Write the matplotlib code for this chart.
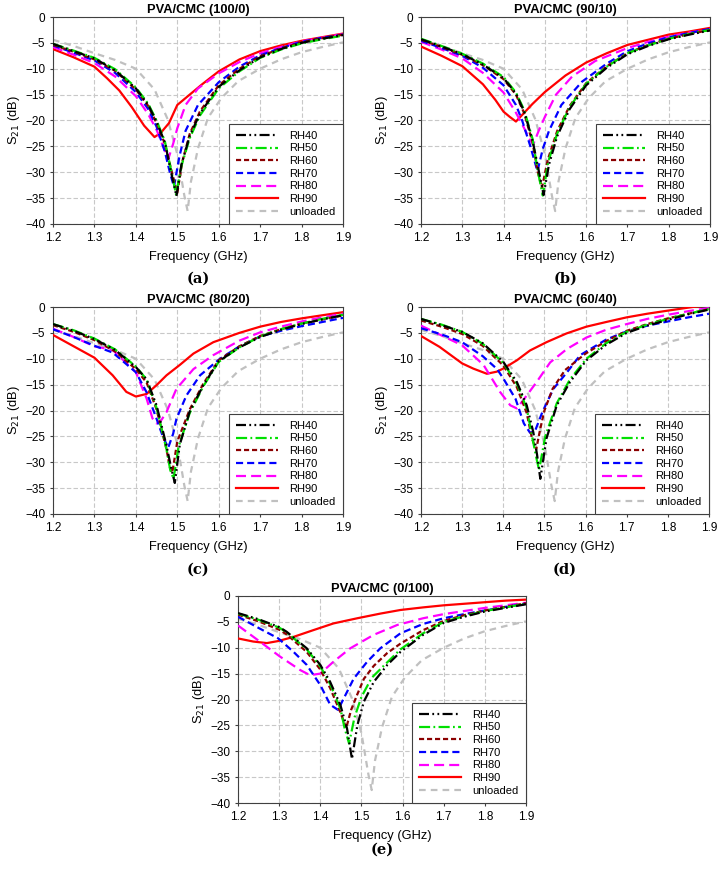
import matplotlib
matplotlib.use("Agg")
import matplotlib.pyplot as plt

plt.rcParams['font.family'] = ['Liberation Sans', 'DejaVu Sans']

labels = ['RH40', 'RH50', 'RH60', 'RH70', 'RH80', 'RH90', 'unloaded']
titles = ['PVA/CMC (100/0)', 'PVA/CMC (90/10)', 'PVA/CMC (80/20)', 'PVA/CMC (60/40)', 'PVA/CMC (0/100)']
tags = ['(a)', '(b)', '(c)', '(d)', '(e)']
xticks = [1.2, 1.3, 1.4, 1.5, 1.6, 1.7, 1.8, 1.9]
yticks = [0, -5, -10, -15, -20, -25, -30, -35, -40]

# unloaded resonator (same in every panel)
un_f = [1.2, 1.25, 1.3, 1.35, 1.4, 1.445, 1.477, 1.5, 1.517, 1.525, 1.533, 1.55, 1.574, 1.606, 1.647, 1.7, 1.75, 1.8, 1.85, 1.9]
un_db = [-4.4, -5.6, -7.0, -8.3, -10.0, -14.0, -19.8, -26.5, -34.5, -37.5, -31.8, -25.4, -19.5, -15.7, -12.4, -10.0, -8.2, -6.8, -5.8, -4.9]

# (a) PVA/CMC 100/0
a_f40 = [1.2, 1.25, 1.3, 1.35, 1.4, 1.43, 1.45, 1.47, 1.485, 1.498, 1.51, 1.53, 1.555, 1.6, 1.65, 1.7, 1.75, 1.8, 1.85, 1.9]
a_db40 = [-5.2, -6.6, -8.0, -10.3, -13.8, -17.0, -20.3, -24.2, -30.0, -34.6, -28.5, -23.0, -18.6, -13.5, -10.3, -7.8, -6.2, -5.0, -4.2, -3.5]
a_f50 = [1.2, 1.25, 1.3, 1.35, 1.4, 1.43, 1.45, 1.47, 1.485, 1.497, 1.51, 1.53, 1.555, 1.6, 1.65, 1.7, 1.75, 1.8, 1.85, 1.9]
a_db50 = [-5.2, -6.5, -7.9, -10.1, -13.6, -16.8, -20.0, -24.0, -29.6, -34.3, -28.8, -23.4, -19.0, -13.8, -10.5, -7.9, -6.3, -5.1, -4.3, -3.6]
a_f60 = [1.2, 1.25, 1.3, 1.35, 1.4, 1.43, 1.45, 1.47, 1.487, 1.5, 1.512, 1.53, 1.555, 1.6, 1.65, 1.7, 1.75, 1.8, 1.85, 1.9]
a_db60 = [-5.4, -6.7, -8.2, -10.4, -14.0, -17.2, -20.5, -24.5, -30.0, -34.0, -28.0, -22.6, -18.2, -13.2, -10.0, -7.6, -6.1, -4.9, -4.1, -3.4]
a_f70 = [1.2, 1.25, 1.3, 1.35, 1.4, 1.43, 1.45, 1.47, 1.482, 1.492, 1.505, 1.52, 1.55, 1.6, 1.65, 1.7, 1.75, 1.8, 1.85, 1.9]
a_db70 = [-5.5, -6.9, -8.4, -10.8, -14.5, -17.8, -21.2, -26.0, -30.0, -32.8, -27.0, -22.0, -17.0, -12.6, -9.6, -7.4, -6.0, -4.8, -4.0, -3.4]
a_f80 = [1.2, 1.25, 1.3, 1.35, 1.4, 1.43, 1.45, 1.465, 1.478, 1.49, 1.5, 1.52, 1.55, 1.6, 1.65, 1.7, 1.75, 1.8, 1.85, 1.9]
a_db80 = [-5.8, -7.3, -8.9, -11.5, -15.3, -18.8, -21.8, -24.8, -27.5, -24.5, -21.5, -17.0, -13.8, -10.9, -8.7, -7.0, -5.8, -4.7, -4.0, -3.3]
a_f90 = [1.2, 1.25, 1.3, 1.33, 1.36, 1.39, 1.42, 1.445, 1.46, 1.48, 1.5, 1.53, 1.56, 1.6, 1.65, 1.7, 1.75, 1.8, 1.85, 1.9]
a_db90 = [-6.2, -7.8, -9.6, -11.8, -14.2, -17.4, -21.0, -23.2, -22.4, -20.5, -17.0, -15.0, -13.0, -10.5, -8.2, -6.6, -5.5, -4.6, -3.9, -3.2]

# (b) PVA/CMC 90/10
b_f40 = [1.2, 1.25, 1.3, 1.35, 1.4, 1.43, 1.45, 1.47, 1.485, 1.497, 1.51, 1.53, 1.56, 1.6, 1.65, 1.7, 1.75, 1.8, 1.85, 1.9]
b_db40 = [-4.3, -5.7, -7.2, -9.2, -11.8, -14.8, -18.3, -23.8, -29.6, -34.4, -28.5, -23.0, -17.8, -13.2, -9.8, -7.2, -5.6, -4.3, -3.4, -2.6]
b_f50 = [1.2, 1.25, 1.3, 1.35, 1.4, 1.43, 1.45, 1.47, 1.483, 1.495, 1.508, 1.53, 1.56, 1.6, 1.65, 1.7, 1.75, 1.8, 1.85, 1.9]
b_db50 = [-4.2, -5.6, -7.1, -9.0, -11.6, -14.6, -18.0, -23.5, -29.8, -34.5, -28.0, -22.5, -17.4, -12.9, -9.6, -7.0, -5.5, -4.2, -3.3, -2.5]
b_f60 = [1.2, 1.25, 1.3, 1.35, 1.4, 1.43, 1.45, 1.47, 1.483, 1.493, 1.507, 1.53, 1.56, 1.6, 1.65, 1.7, 1.75, 1.8, 1.85, 1.9]
b_db60 = [-4.4, -5.8, -7.3, -9.3, -12.0, -15.0, -18.6, -24.2, -30.0, -33.0, -27.6, -22.0, -17.2, -12.8, -9.5, -7.0, -5.4, -4.2, -3.3, -2.5]
b_f70 = [1.2, 1.25, 1.3, 1.35, 1.4, 1.43, 1.445, 1.465, 1.482, 1.495, 1.51, 1.54, 1.59, 1.65, 1.7, 1.75, 1.8, 1.85, 1.9]
b_db70 = [-4.6, -6.0, -7.5, -9.8, -13.2, -17.0, -20.0, -25.0, -29.8, -25.5, -22.0, -17.0, -12.5, -9.0, -6.6, -5.1, -3.9, -3.1, -2.3]
b_f80 = [1.2, 1.25, 1.3, 1.35, 1.4, 1.43, 1.45, 1.462, 1.472, 1.485, 1.5, 1.527, 1.566, 1.622, 1.7, 1.75, 1.8, 1.85, 1.9]
b_db80 = [-4.8, -6.3, -8.0, -10.8, -14.6, -18.5, -21.5, -23.5, -24.6, -22.0, -19.3, -15.0, -11.5, -8.5, -6.0, -4.8, -3.8, -3.0, -2.4]
b_f90 = [1.2, 1.25, 1.3, 1.35, 1.38, 1.4, 1.415, 1.43, 1.45, 1.47, 1.5, 1.55, 1.6, 1.65, 1.7, 1.75, 1.8, 1.85, 1.9]
b_db90 = [-5.7, -7.5, -9.5, -13.0, -16.0, -18.3, -19.3, -20.2, -18.5, -16.8, -14.5, -11.3, -8.8, -7.0, -5.4, -4.4, -3.4, -2.8, -2.1]

# (c) PVA/CMC 80/20
c_f40 = [1.2, 1.25, 1.3, 1.35, 1.4, 1.426, 1.45, 1.474, 1.485, 1.494, 1.506, 1.53, 1.563, 1.6, 1.65, 1.7, 1.75, 1.8, 1.85, 1.9]
c_db40 = [-3.3, -4.6, -6.2, -8.3, -11.6, -14.0, -19.0, -26.8, -31.0, -34.0, -26.6, -20.2, -15.1, -10.5, -7.8, -5.8, -4.4, -3.3, -2.4, -1.6]
c_f50 = [1.2, 1.25, 1.3, 1.35, 1.4, 1.426, 1.45, 1.474, 1.483, 1.491, 1.503, 1.53, 1.563, 1.6, 1.65, 1.7, 1.75, 1.8, 1.85, 1.9]
c_db50 = [-3.3, -4.5, -6.1, -8.2, -11.5, -14.0, -19.5, -27.5, -31.5, -33.2, -27.0, -20.5, -15.3, -10.6, -7.8, -5.7, -4.3, -3.2, -2.3, -1.5]
c_f60 = [1.2, 1.25, 1.3, 1.35, 1.4, 1.426, 1.45, 1.474, 1.482, 1.488, 1.5, 1.53, 1.563, 1.6, 1.65, 1.7, 1.75, 1.8, 1.85, 1.9]
c_db60 = [-3.5, -4.8, -6.4, -8.6, -12.0, -14.6, -19.8, -27.5, -31.0, -32.0, -26.0, -19.8, -14.8, -10.3, -7.6, -5.6, -4.3, -3.2, -2.4, -1.6]
c_f70 = [1.2, 1.25, 1.3, 1.344, 1.4, 1.426, 1.45, 1.465, 1.478, 1.49, 1.498, 1.522, 1.555, 1.603, 1.65, 1.7, 1.75, 1.8, 1.85, 1.9]
c_db70 = [-4.3, -5.8, -7.5, -8.8, -12.6, -16.5, -21.6, -25.0, -27.2, -24.5, -21.6, -17.1, -13.2, -10.0, -7.6, -5.7, -4.6, -3.7, -2.9, -2.1]
c_f80 = [1.2, 1.25, 1.3, 1.344, 1.4, 1.426, 1.44, 1.45, 1.462, 1.474, 1.498, 1.539, 1.587, 1.65, 1.7, 1.75, 1.8, 1.85, 1.9]
c_db80 = [-4.2, -5.8, -7.6, -8.3, -12.6, -17.7, -21.5, -22.5, -21.8, -20.3, -15.8, -12.0, -9.3, -6.5, -4.9, -3.8, -2.8, -2.0, -1.3]
c_f90 = [1.2, 1.25, 1.3, 1.344, 1.377, 1.4, 1.426, 1.45, 1.474, 1.506, 1.539, 1.587, 1.65, 1.7, 1.75, 1.8, 1.85, 1.9]
c_db90 = [-5.4, -7.6, -9.8, -13.2, -16.4, -17.3, -16.8, -15.1, -13.2, -11.2, -9.0, -6.8, -5.0, -3.8, -2.9, -2.2, -1.6, -1.0]

# (d) PVA/CMC 60/40
d_f40 = [1.2, 1.25, 1.3, 1.35, 1.4, 1.433, 1.457, 1.473, 1.482, 1.49, 1.505, 1.53, 1.562, 1.602, 1.65, 1.7, 1.75, 1.8, 1.85, 1.9]
d_db40 = [-2.3, -3.5, -4.8, -7.0, -10.6, -14.5, -19.0, -24.2, -28.5, -33.2, -25.4, -19.0, -14.5, -10.3, -7.3, -5.0, -3.6, -2.5, -1.4, -0.5]
d_f50 = [1.2, 1.25, 1.3, 1.35, 1.4, 1.433, 1.457, 1.47, 1.48, 1.487, 1.502, 1.53, 1.562, 1.602, 1.65, 1.7, 1.75, 1.8, 1.85, 1.9]
d_db50 = [-2.3, -3.4, -4.8, -7.1, -10.8, -14.8, -19.6, -25.0, -29.0, -31.5, -25.0, -18.6, -14.0, -10.0, -7.0, -4.8, -3.4, -2.3, -1.3, -0.4]
d_f60 = [1.2, 1.25, 1.3, 1.35, 1.4, 1.433, 1.457, 1.47, 1.48, 1.49, 1.5, 1.52, 1.55, 1.6, 1.65, 1.7, 1.75, 1.8, 1.85, 1.9]
d_db60 = [-2.6, -3.8, -5.2, -7.5, -11.3, -15.5, -20.5, -25.5, -27.5, -23.5, -20.0, -15.8, -12.2, -9.0, -6.6, -4.6, -3.3, -2.2, -1.3, -0.4]
d_f70 = [1.2, 1.25, 1.3, 1.35, 1.385, 1.4, 1.43, 1.45, 1.465, 1.477, 1.495, 1.522, 1.555, 1.587, 1.65, 1.7, 1.75, 1.8, 1.85, 1.9]
d_db70 = [-4.1, -5.3, -6.8, -9.5, -12.0, -13.8, -17.8, -22.5, -24.3, -24.0, -20.3, -15.8, -12.6, -9.3, -6.3, -4.7, -3.6, -2.8, -2.0, -1.3]
d_f80 = [1.2, 1.25, 1.3, 1.352, 1.392, 1.417, 1.433, 1.457, 1.481, 1.514, 1.555, 1.602, 1.65, 1.7, 1.75, 1.8, 1.85, 1.9]
d_db80 = [-3.6, -5.5, -7.4, -11.2, -16.4, -19.0, -19.6, -17.1, -14.5, -10.7, -8.1, -5.9, -4.4, -3.3, -2.3, -1.5, -0.8, -0.2]
d_f90 = [1.2, 1.245, 1.3, 1.327, 1.36, 1.384, 1.4, 1.433, 1.465, 1.505, 1.554, 1.602, 1.65, 1.7, 1.75, 1.8, 1.86, 1.9]
d_db90 = [-5.6, -7.7, -10.9, -11.9, -12.9, -12.5, -11.9, -10.3, -8.4, -6.8, -5.1, -3.8, -2.9, -2.0, -1.3, -0.7, 0.0, 0.3]

# (e) PVA/CMC 0/100
e_f40 = [1.2, 1.25, 1.3, 1.318, 1.367, 1.4, 1.424, 1.449, 1.465, 1.477, 1.49, 1.506, 1.53, 1.563, 1.595, 1.65, 1.7, 1.75, 1.8, 1.85, 1.9]
e_db40 = [-3.3, -4.5, -6.0, -6.9, -10.1, -13.3, -16.6, -21.1, -25.6, -31.5, -25.0, -20.4, -16.6, -13.3, -10.8, -7.5, -5.2, -4.0, -3.0, -2.3, -1.6]
e_f50 = [1.2, 1.25, 1.3, 1.318, 1.367, 1.4, 1.424, 1.449, 1.459, 1.47, 1.483, 1.5, 1.525, 1.563, 1.595, 1.65, 1.7, 1.75, 1.8, 1.85, 1.9]
e_db50 = [-3.4, -4.6, -6.1, -7.0, -10.3, -13.6, -17.0, -21.8, -25.5, -28.5, -23.5, -19.5, -15.8, -12.8, -10.3, -7.2, -5.0, -3.9, -2.9, -2.2, -1.5]
e_f60 = [1.2, 1.25, 1.3, 1.318, 1.367, 1.4, 1.424, 1.449, 1.463, 1.475, 1.49, 1.506, 1.53, 1.563, 1.595, 1.65, 1.7, 1.75, 1.8, 1.85, 1.9]
e_db60 = [-3.6, -4.9, -6.5, -7.4, -10.8, -14.2, -17.8, -22.5, -25.5, -22.0, -19.0, -16.0, -13.5, -11.0, -9.2, -6.6, -4.8, -3.7, -2.8, -2.1, -1.4]
e_f70 = [1.2, 1.253, 1.298, 1.335, 1.367, 1.4, 1.424, 1.443, 1.457, 1.481, 1.514, 1.546, 1.595, 1.65, 1.7, 1.75, 1.8, 1.85, 1.9]
e_db70 = [-4.0, -6.3, -8.2, -10.8, -13.3, -17.2, -21.0, -22.0, -19.8, -16.0, -12.7, -10.1, -7.2, -5.4, -4.3, -3.5, -2.8, -2.1, -1.5]
e_f80 = [1.2, 1.253, 1.302, 1.351, 1.375, 1.4, 1.432, 1.473, 1.53, 1.587, 1.65, 1.7, 1.75, 1.8, 1.85, 1.9]
e_db80 = [-5.7, -8.8, -11.7, -14.3, -15.3, -15.0, -12.7, -10.1, -7.5, -5.6, -4.3, -3.5, -2.9, -2.3, -1.8, -1.3]
e_f90 = [1.2, 1.237, 1.27, 1.298, 1.335, 1.383, 1.432, 1.49, 1.546, 1.595, 1.65, 1.7, 1.75, 1.8, 1.85, 1.9]
e_db90 = [-8.2, -8.8, -9.1, -8.7, -7.9, -6.6, -5.3, -4.3, -3.4, -2.7, -2.2, -1.8, -1.5, -1.2, -0.9, -0.7]

panels = [
    [(a_f40, a_db40), (a_f50, a_db50), (a_f60, a_db60), (a_f70, a_db70), (a_f80, a_db80), (a_f90, a_db90)],
    [(b_f40, b_db40), (b_f50, b_db50), (b_f60, b_db60), (b_f70, b_db70), (b_f80, b_db80), (b_f90, b_db90)],
    [(c_f40, c_db40), (c_f50, c_db50), (c_f60, c_db60), (c_f70, c_db70), (c_f80, c_db80), (c_f90, c_db90)],
    [(d_f40, d_db40), (d_f50, d_db50), (d_f60, d_db60), (d_f70, d_db70), (d_f80, d_db80), (d_f90, d_db90)],
    [(e_f40, e_db40), (e_f50, e_db50), (e_f60, e_db60), (e_f70, e_db70), (e_f80, e_db80), (e_f90, e_db90)],
]

colors = ['black', '#00e000', '#8b0000', '#0000ff', '#ff00ff', '#ff0000', '#c0c0c0']
styles = [(0, (4.5, 1.5, 0.8, 1.5, 0.8, 1.5)), (0, (5, 1.5, 0.8, 1.5)), (0, (2.3, 1.3)), (0, (3.2, 1.8)),
          (0, (4.5, 2.3)), '-', (0, (3, 2.3))]

# axes boxes in pixels (left, top, right, bottom) on a 720x872 canvas
boxes = [(53, 17, 343, 224), (421, 17, 710, 224),
         (53, 307, 343, 514), (421, 307, 709, 514),
         (238, 596, 526, 803)]
tag_y = [279, 279, 570, 570, 850]

W, H = 720, 872
fig = plt.figure(figsize=(7.2, 8.72), dpi=100)

for i in range(5):
    l, t, r, b = boxes[i]
    ax = fig.add_axes([l / W, 1 - b / H, (r - l) / W, (b - t) / H])
    ax.plot(un_f, un_db, color=colors[6], linestyle=styles[6], lw=1.6, zorder=1)
    for j in range(5, -1, -1):
        f, db = panels[i][j]
        ax.plot(f, db, color=colors[j], linestyle=styles[j], lw=1.6, zorder=2 + (6 - j))
    # legend order as in the paper
    handles = [plt.Line2D([], [], color=colors[k], linestyle=styles[k], lw=1.6) for k in range(7)]
    leg = ax.legend(handles, labels, loc='lower right', borderaxespad=0, fontsize=8,
                    handlelength=3.8, labelspacing=0.24, fancybox=False, framealpha=1,
                    edgecolor='#404040', borderpad=0.65, handletextpad=1.0)
    leg.get_frame().set_linewidth(0.8)
    leg.set_zorder(20)
    ax.set_xlim(1.2, 1.9)
    ax.set_ylim(-40, 0)
    ax.set_xticks(xticks)
    ax.set_yticks(yticks)
    ax.set_xticklabels(['%.1f' % v for v in xticks])
    ax.set_yticklabels(['0' if v == 0 else '\u2212%d' % (-v) for v in yticks])
    ax.tick_params(length=2.5, width=0.8, color='#404040', pad=3, labelsize=8.5)
    ax.grid(True, color='#c8c8c8', linestyle=(0, (4, 2)), lw=0.8)
    ax.set_axisbelow(True)
    for s in ax.spines.values():
        s.set_color('#404040')
        s.set_linewidth(0.8)
    ax.set_title(titles[i], fontsize=9.3, fontweight='bold', pad=3)
    ax.set_xlabel('Frequency (GHz)', fontsize=9.3, labelpad=5)
    ax.set_ylabel('S$_{21}$ (dB)', fontsize=9.3, labelpad=2)
    fig.text((l + r) / 2 / W, 1 - tag_y[i] / H, tags[i], ha='center', va='center',
             fontsize=10.5, fontweight='bold', family='DejaVu Serif')

fig.savefig('out.png', dpi=100)
